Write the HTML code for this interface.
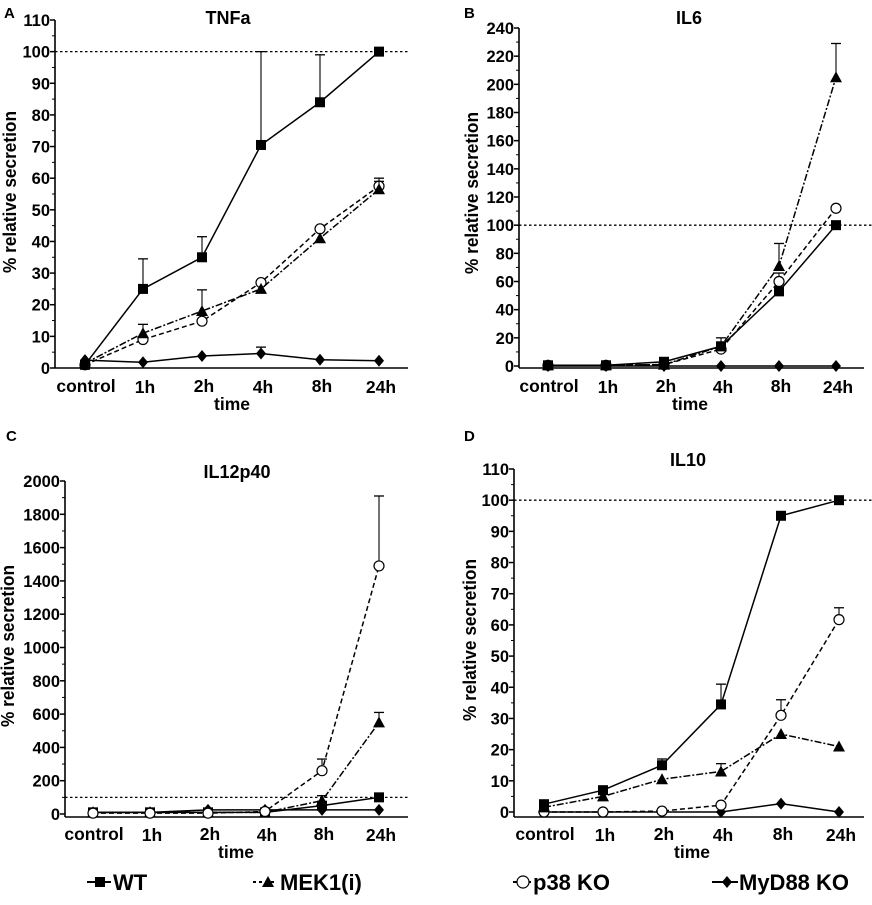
<!DOCTYPE html>
<html><head><meta charset="utf-8"><style>
html,body{margin:0;padding:0;background:#fff;}
svg{display:block;font-family:"Liberation Sans",Arial,sans-serif;font-weight:bold;}
</style></head><body>
<svg id="fig" width="872" height="905" viewBox="0 0 872 905" xmlns="http://www.w3.org/2000/svg"></svg>
<script>
const categories = ["control","1h","2h","4h","8h","24h"];
// Panel A TNFa
const tnfWT = [1,25,35,70.5,84,100];
const tnfWTerr = [null,34.5,41.5,100,99,null];
const tnfMEK = [1.5,11,18,25,41,56.5];
const tnfMEKerr = [null,13.8,24.7,null,null,59];
const tnfP38 = [1,9,14.8,27,44,57.5];
const tnfP38err = [null,null,null,null,null,60];
const tnfMyD = [2.5,1.8,3.8,4.6,2.6,2.3];
const tnfMyDerr = [null,null,null,6.6,null,null];
const tnfTicks = [0,10,20,30,40,50,60,70,80,90,100,110];
// Panel B IL6
const il6WT = [0.5,0.5,3,14,53,100];
const il6WTerr = [null,null,null,null,null,null];
const il6MEK = [0.5,0.5,1,14,71,205];
const il6MEKerr = [null,null,null,20,87,229];
const il6P38 = [0.5,0.5,1,12,60,112];
const il6P38err = [null,null,null,null,66,null];
const il6MyD = [0,0,0,0,0,0];
const il6Ticks = [0,20,40,60,80,100,120,140,160,180,200,220,240];
// Panel C IL12p40
const il12WT = [10,10,10,10,50,100];
const il12MEK = [10,10,10,10,80,550];
const il12MEKerr = [null,null,null,null,110,610];
const il12P38 = [5,5,5,15,260,1490];
const il12P38err = [null,null,null,null,330,1910];
const il12MyD = [10,10,25,25,25,25];
const il12Ticks = [0,200,400,600,800,1000,1200,1400,1600,1800,2000];
// Panel D IL10
const il10WT = [2.5,7,15,34.5,95,100];
const il10WTerr = [null,null,17,41,null,null];
const il10MEK = [1.5,5,10.5,13,25,21];
const il10MEKerr = [null,null,null,15.5,null,null];
const il10P38 = [0,0,0.3,2.2,31,61.7];
const il10P38err = [null,null,null,null,36,65.5];
const il10MyD = [0,0,0,0,2.7,0];
const il10Ticks = [0,10,20,30,40,50,60,70,80,90,100,110];

const NS="http://www.w3.org/2000/svg";
const svg=document.getElementById('fig');
function mk(tag,attrs,parent){const e=document.createElementNS(NS,tag);for(const k in attrs)e.setAttribute(k,attrs[k]);(parent||svg).appendChild(e);return e;}

const dashes={wt:"",mek:"7,2,2,2",p38:"5,3",myd:""};

function marker(g,type,x,y){
  let m;
  if(type==='wt') m=mk('rect',{x:x-5,y:y-5,width:10,height:10,fill:'#000'},g);
  else if(type==='mek') m=mk('polygon',{points:`${x},${y-6} ${x-6},${y+5} ${x+6},${y+5}`,fill:'#000'},g);
  else if(type==='p38') m=mk('circle',{cx:x,cy:y,r:5,fill:'#fff',stroke:'#000','stroke-width':1.2},g);
  else m=mk('polygon',{points:`${x},${y-6} ${x+5},${y} ${x},${y+6} ${x-5},${y}`,fill:'#000'},g);
  return m;
}

function panel(p){
  const g=mk('g',{});
  
  
  const ymax=p.ticks[p.ticks.length-1];
  const ys=v=>p.y0-(v/ymax)*(p.y0-p.ytop);
  const xs=i=>p.xs[i];
  let t=mk('text',{x:p.lx,y:p.ly,'font-size':15},g);t.textContent=p.letter;
  
  t=mk('text',{x:p.tx,y:p.ty,'font-size':18,'text-anchor':'middle'},g);t.textContent=p.title;
  
  const ax=mk('line',{x1:p.ax,y1:p.ytop,x2:p.ax,y2:p.axisY,stroke:'#000','stroke-width':1.6},g);
  
  const bx=mk('line',{x1:p.ax,y1:p.axisY,x2:p.xend,y2:p.axisY,stroke:'#000','stroke-width':1.6},g);
  
  p.ticks.forEach((v,i)=>{
    const y=ys(v);
    mk('line',{x1:p.ax-5,y1:y,x2:p.ax,y2:y,stroke:'#000','stroke-width':1.5},g);
    const tl=mk('text',{x:p.ax-5,y:y+6,'font-size':16.5,'text-anchor':'end'},g);tl.textContent=v;
    
    if(i<p.ticks.length-1){const ym=ys((v+p.ticks[i+1])/2);mk('line',{x1:p.ax-3,y1:ym,x2:p.ax,y2:ym,stroke:'#000','stroke-width':1},g);}
  });
  categories.forEach((c,i)=>{
    const tl=mk('text',{x:xs(i)+(i==0?1:2),y:p.labY+(i%2==0?0:1),'font-size':17.5,'text-anchor':'middle'},g);tl.textContent=c;
    
  });
  t=mk('text',{x:p.timeX,y:p.labY+18,'font-size':17.5,'text-anchor':'middle'},g);t.textContent='time';
  
  t=mk('text',{x:0,y:0,'font-size':18,'text-anchor':'middle',textLength:162,lengthAdjust:'spacingAndGlyphs',transform:`translate(${p.ytx},${p.yty}) rotate(-90)`},g);t.textContent='% relative secretion';
  
  const rl=mk('line',{x1:p.ax,y1:ys(100),x2:p.refEnd,y2:ys(100),stroke:'#000','stroke-width':1.3,'stroke-dasharray':'2.5,2.5'},g);
  
  p.series.forEach(s=>{
    const sg=mk('g',{},g);
    
    if(s.err) s.err.forEach((e,i)=>{ if(e==null)return;
      mk('line',{x1:xs(i),y1:ys(s.vals[i]),x2:xs(i),y2:ys(e),stroke:'#000','stroke-width':1.1},sg);
      mk('line',{x1:xs(i)-5,y1:ys(e),x2:xs(i)+5,y2:ys(e),stroke:'#000','stroke-width':1.3},sg);
    });
    const pts=s.vals.map((v,i)=>xs(i)+','+ys(v)).join(' ');
    const pl=mk('polyline',{points:pts,fill:'none',stroke:'#000','stroke-width':1.5,'stroke-dasharray':dashes[s.type]},sg);
    
    s.vals.forEach((v,i)=>{const m=marker(sg,s.type,xs(i),ys(v));
      });
  });
}

panel({name:'tnfa',letter:'A',lx:4,ly:18,title:'TNFa',tx:228,ty:24,ax:55,y0:368,ytop:20,axisY:368,xend:408,
  xs:[85,143,202,261,320,379],ticks:tnfTicks,labY:392,timeX:232,ytx:16,yty:192,refEnd:408,
  series:[{type:'myd',vals:tnfMyD,err:tnfMyDerr},{type:'p38',vals:tnfP38,err:tnfP38err},{type:'mek',vals:tnfMEK,err:tnfMEKerr},{type:'wt',vals:tnfWT,err:tnfWTerr}]});
panel({name:'il6',letter:'B',lx:464,ly:18,title:'IL6',tx:689,ty:24,ax:519,y0:366,ytop:28,axisY:368,xend:864,
  xs:[548,606,664,721,779,836],ticks:il6Ticks,labY:392,timeX:690,ytx:478,yty:193,refEnd:872,
  series:[{type:'myd',vals:il6MyD},{type:'p38',vals:il6P38,err:il6P38err},{type:'wt',vals:il6WT,err:il6WTerr},{type:'mek',vals:il6MEK,err:il6MEKerr}]});
panel({name:'il12p40',letter:'C',lx:6,ly:441,title:'IL12p40',tx:237,ty:478,ax:65,y0:814,ytop:481,axisY:817,xend:408,
  xs:[93,150,208,265,322,379],ticks:il12Ticks,labY:840,timeX:236,ytx:14,yty:646,refEnd:408,
  series:[{type:'myd',vals:il12MyD},{type:'wt',vals:il12WT},{type:'mek',vals:il12MEK,err:il12MEKerr},{type:'p38',vals:il12P38,err:il12P38err}]});
panel({name:'il10',letter:'D',lx:464,ly:441,title:'IL10',tx:688,ty:466,ax:514,y0:812,ytop:469,axisY:817,xend:864,
  xs:[544,603,662,721,781,839],ticks:il10Ticks,labY:840,timeX:692,ytx:476,yty:640,refEnd:872,
  series:[{type:'myd',vals:il10MyD},{type:'p38',vals:il10P38,err:il10P38err},{type:'mek',vals:il10MEK,err:il10MEKerr},{type:'wt',vals:il10WT,err:il10WTerr}]});

const lg=mk('g',{});


const entries=[{type:'wt',x1:87,x2:111,mx:100,tx:113,label:'WT'},{type:'mek',x1:253,x2:277,mx:268,tx:280,label:'MEK1(i)'},
  {type:'p38',x1:513,x2:532,mx:523,tx:533,label:'p38 KO'},{type:'myd',x1:712,x2:738,mx:727,tx:739,label:'MyD88 KO'}];
entries.forEach(e=>{
  const g=mk('g',{},lg);
  
  
  mk('line',{x1:e.x1,y1:882,x2:e.x2,y2:882,stroke:'#000','stroke-width':2,'stroke-dasharray':e.type==='mek'?'3,3':(e.type==='p38'?'4,3':'')},g);
  const m=marker(g,e.type,e.mx,882);
  if(e.type==='p38'){m.setAttribute('r',6);}
  const t=mk('text',{x:e.tx,y:890,'font-size':22},g);t.textContent=e.label;
});
</script>
</body></html>
